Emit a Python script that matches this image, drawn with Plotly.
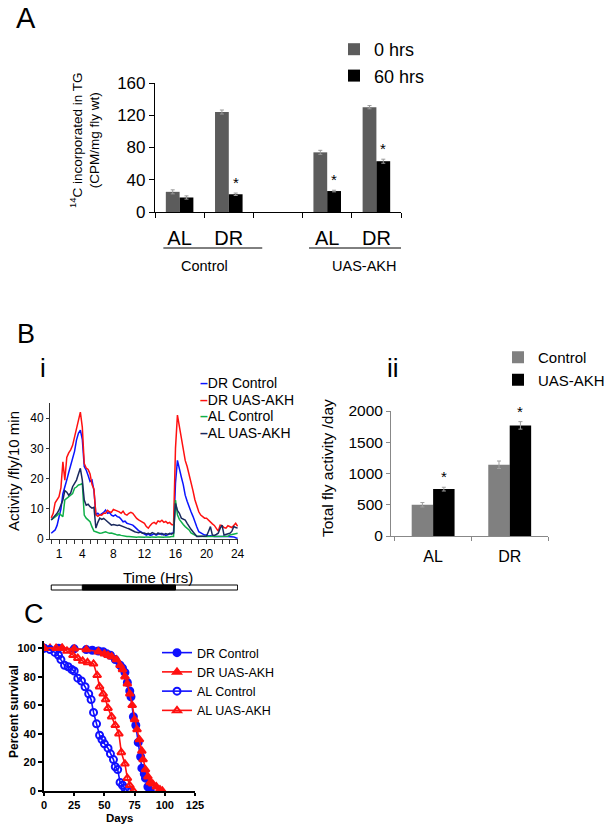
import plotly.graph_objects as go

W, H = 616, 829
def px(x): return x / W
def py(y): return 1 - y / H

FONT = "Liberation Sans, Arial, sans-serif"

# ---------------- Panel A data ----------------
a_positions = [0.5, 1.5, 3.5, 4.5]
a_labels = ["AL", "DR", "AL", "DR"]
a_group_names = ["Control", "UAS-AKH"]
tg_0h = [25, 124, 74, 130]
tg_0h_err = [2.5, 2.5, 2.5, 2.0]
tg_60h = [18, 22, 26, 63]
tg_60h_err = [2.0, 1.5, 1.0, 2.5]
tg_60h_sig = [False, True, True, True]
a_yticks = [0, 40, 80, 120, 160]

# ---------------- Panel B(i) data (activity per 10 min, read every 15 min) ----------------
hours = [0, 0.25, 0.5, 0.75, 1, 1.25, 1.5, 1.75,
         2, 2.25, 2.5, 2.75, 3, 3.25, 3.5, 3.75,
         4, 4.25, 4.5, 4.75, 5, 5.25, 5.5, 5.75,
         6, 6.25, 6.5, 6.75, 7, 7.25, 7.5, 7.75,
         8, 8.25, 8.5, 8.75, 9, 9.25, 9.5, 9.75,
         10, 10.25, 10.5, 10.75, 11, 11.25, 11.5, 11.75,
         12, 12.25, 12.5, 12.75, 13, 13.25, 13.5, 13.75,
         14, 14.25, 14.5, 14.75, 15, 15.25, 15.5, 15.75,
         16, 16.25, 16.5, 16.75, 17, 17.25, 17.5, 17.75,
         18, 18.25, 18.5, 18.75, 19, 19.25, 19.5, 19.75,
         20, 20.25, 20.5, 20.75, 21, 21.25, 21.5, 21.75,
         22, 22.25, 22.5, 22.75, 23, 23.25, 23.5, 23.75,
         24]
dr_control = [1.9, 2.5, 3, 4.5, 7.5, 10, 15, 17,
              19.5, 22, 24.5, 27, 29, 32.7, 35, 36,
              33, 24, 22.8, 21, 19, 19.5, 16, 8,
              8.5, 7.9, 8.3, 8.8, 9.6, 8.5, 8.8, 7.9,
              7.6, 8, 7.4, 7.2, 6.5, 5.7, 5.9, 5.2,
              5, 4.8, 4.6, 4, 3.3, 2.8, 2.4, 2,
              1.6, 1.3, 1.6, 1.2, 1.4, 1.8, 1.3, 1.5,
              1.9, 1.4, 1.6, 1.2, 1.5, 1.8, 1.9, 2,
              18.5, 26, 22.8, 20.5, 18, 14.5, 12.5, 10.5,
              9, 7.5, 5.5, 4, 2.4, 2, 1.6, 1.3,
              1.3, 1, 1.1, 0.9, 0.8, 0.8, 0.9, 0.8,
              0.8, 0.9, 0.8, 0.8, 0.8, 0.8, 0.7, 0.4,
              0.2]
dr_uas_akh = [7, 8.5, 12, 13, 14, 17, 25.5, 19.5,
              27, 28.5, 29.5, 31, 34, 37, 40, 42,
              37, 25, 23.5, 23, 21.5, 18, 16.5, 8,
              7.5, 8, 7.9, 8.5, 8.5, 9.5, 9, 8.8,
              9.8, 9.6, 9.2, 9, 8.5, 9.2, 8.2, 7.9,
              8.5, 8.8, 8.5, 7.5, 6.8, 6.3, 6, 5.5,
              5.2, 4.1, 3.6, 4.5, 5.2, 5.5, 5, 6,
              5.7, 6.2, 5.5, 5.8, 5.2, 5.5, 4.8, 4.6,
              30, 41, 37, 33, 30, 26, 24, 21.5,
              19, 16, 13, 11, 9, 7.9, 7.5, 6.9,
              6.9, 6.2, 5.7, 5, 4.5, 3.6, 2.6, 4.6,
              4.4, 3.8, 3.6, 4.4, 4.1, 3.8, 4.5, 5.2,
              4.2]
al_control = [6.3, 6.8, 7, 7.8, 8.5, 8, 7.4, 12.9,
              13.5, 14, 14.5, 15, 16.8, 17.2, 17.9, 18,
              18.4, 7.9, 6.9, 6.3, 5.7, 4, 2.6, 2.4,
              2.2, 1.9, 2, 2.2, 2.4, 2.1, 1.9, 2,
              1.9, 1.6, 1.3, 1.4, 1.2, 1, 0.9, 0.8,
              0.8, 0.7, 0.8, 0.7, 0.6, 0.7, 0.6, 0.6,
              0.6, 0.7, 0.6, 0.6, 0.7, 0.6, 0.6, 0.7,
              0.6, 0.7, 0.6, 0.7, 0.6, 0.7, 0.8, 0.8,
              12.9, 8, 6.5, 5.5, 4.8, 4.1, 3.5, 3,
              2, 1.5, 1.3, 1, 0.9, 0.8, 0.8, 0.8,
              0.8, 0.8, 0.8, 0.8, 0.8, 0.8, 0.8, 0.8,
              0.8, 0.8, 0.8, 0.9, 1.3, 1.4, 1.6, 1.8,
              1.9]
al_uas_akh = [6.3, 7, 7.9, 8.5, 9.6, 11, 12.9, 16,
              15.5, 14.5, 15.2, 17.3, 18.5, 19.5, 21.5, 23.4,
              19.5, 12.9, 11.2, 11.5, 10.7, 10.2, 10.5, 3.6,
              5.5, 6.9, 6.5, 6.8, 6.3, 5.8, 5, 4.6,
              4.8, 4.6, 4.5, 4.6, 4.3, 4.1, 3.8, 3.6,
              3.4, 3, 2.6, 2.4, 2.2, 2.1, 2.3, 1.9,
              2, 1.7, 1.9, 1.6, 2.1, 1.8, 1.5, 2,
              1.6, 1.9, 1.4, 1.8, 1.5, 1.9, 1.6, 2,
              11.8, 9.5, 8.5, 6.9, 6.6, 6.3, 5.2, 4.1,
              3.2, 2.4, 1.5, 0.8, 0.8, 0.8, 0.9, 0.8,
              1, 2.5, 4.1, 1.3, 1.2, 1.5, 1.9, 3.5,
              4.6, 1.3, 1.5, 1.8, 1.9, 2.5, 4.1, 3.8,
              3.6]
bi_names = ["DR Control", "DR UAS-AKH", "AL Control", "AL UAS-AKH"]
bi_colors = ["#0a14ff", "#ff1010", "#10b04a", "#1a2a5e"]
bi_xticks = [1, 4, 8, 12, 16, 20, 24]
bi_yticks = [0, 10, 20, 30, 40]
dark_period = [4, 16]
day_span = [0, 24]

# ---------------- Panel B(ii) data ----------------
bii_positions = [0.5, 1.5]
bii_labels = ["AL", "DR"]
act_control = [500, 1140]
act_control_err = [35, 60]
act_akh = [750, 1770]
act_akh_err = [30, 60]
act_akh_sig = [True, True]
bii_yticks = [0, 500, 1000, 1500, 2000]

# ---------------- Panel C data ----------------
dr_ctrl_days = [0, 12, 25, 35, 40, 45, 49, 52, 55, 59, 63, 65, 67, 69, 71, 72, 74, 76, 78, 80, 81, 83, 84, 86, 88]
dr_ctrl_surv = [100, 100, 99.5, 99, 98.5, 98, 97.5, 96, 95, 92, 88, 86, 83, 76, 70, 66, 52, 46, 34, 24, 16, 12, 9, 3, 0]
dr_akh_days = [0, 5, 15, 25, 35, 45, 50, 53, 56, 60, 63, 65, 67, 69, 71, 73, 75, 77, 79, 81, 82, 84, 86, 88, 90, 93, 96, 98]
dr_akh_surv = [100, 100, 100, 99.5, 99, 97.5, 96, 95, 94, 92, 88, 85, 80, 75, 68, 60, 50, 43, 36, 28, 22, 15, 10, 6, 5, 3, 1, 0]
al_ctrl_days = [0, 5, 9, 12, 14, 17, 20, 23, 25, 28, 31, 34, 37, 39, 41, 43.5, 46, 48, 50, 53, 55, 57.5, 59, 61, 63, 65, 67, 69]
al_ctrl_surv = [100, 99, 97, 95, 92, 88, 87, 85, 84, 79, 77, 73, 68, 64, 55, 47, 39, 36, 33, 30, 26, 22, 17, 15, 6, 4, 2, 0]
al_akh_days = [0, 10, 15, 19, 24, 28, 32, 36, 41, 44, 46, 49, 51, 53, 56, 59, 62, 64, 67, 69, 71, 74]
al_akh_surv = [100, 100, 100, 98, 95, 93, 91, 90, 89, 81, 73, 68, 64, 58, 52, 46, 40, 27, 19, 9, 4, 0]
c_xticks = [0, 25, 50, 75, 100, 125]
c_yticks = [0, 20, 40, 60, 80, 100]

BAR_W = 0.28

fig = go.Figure()

# ---------- Panel A ----------
fig.add_trace(go.Bar(x=a_positions, y=tg_0h, width=BAR_W, offset=-BAR_W, name="0 hrs",
                     marker=dict(color="#5c5c5c", line=dict(width=0)),
                     error_y=dict(type="data", array=tg_0h_err, color="#9a9a9a", thickness=1, width=2),
                     xaxis="x", yaxis="y", legend="legend", legendgroup="a0"))
fig.add_trace(go.Bar(x=a_positions, y=tg_60h, width=BAR_W, offset=0, name="60 hrs",
                     marker=dict(color="#000000", line=dict(width=0)),
                     error_y=dict(type="data", array=tg_60h_err, color="#9a9a9a", thickness=1, width=2),
                     xaxis="x", yaxis="y", legend="legend", legendgroup="a1"))

# ---------- Panel B(i) ----------
for name, vals, col in zip(bi_names, [dr_control, dr_uas_akh, al_control, al_uas_akh], bi_colors):
    fig.add_trace(go.Scatter(x=hours, y=vals, mode="lines", name=name,
                             line=dict(color=col, width=1.5), showlegend=False,
                             xaxis="x2", yaxis="y2"))

# ---------- Panel B(ii) ----------
fig.add_trace(go.Bar(x=bii_positions, y=act_control, width=BAR_W, offset=-BAR_W, name="Control",
                     marker=dict(color="#808080", line=dict(width=0)),
                     error_y=dict(type="data", array=act_control_err, color="#a0a0a0", thickness=1, width=2),
                     xaxis="x3", yaxis="y3", legend="legend3", legendgroup="b0"))
fig.add_trace(go.Bar(x=bii_positions, y=act_akh, width=BAR_W, offset=0, name="UAS-AKH",
                     marker=dict(color="#000000", line=dict(width=0)),
                     error_y=dict(type="data", array=act_akh_err, color="#a0a0a0", thickness=1, width=2),
                     xaxis="x3", yaxis="y3", legend="legend3", legendgroup="b1"))

# ---------- Panel C ----------
c_series = [
    ("DR Control", dr_ctrl_days, dr_ctrl_surv, "#1010ff", "circle"),
    ("DR UAS-AKH", dr_akh_days, dr_akh_surv, "#ff1010", "triangle-up"),
    ("AL Control", al_ctrl_days, al_ctrl_surv, "#1010ff", "circle-open"),
    ("AL UAS-AKH", al_akh_days, al_akh_surv, "#ff1010", "triangle-up-open"),
]
for name, d, s, col, sym in c_series:
    fig.add_trace(go.Scatter(x=d, y=s, mode="lines+markers", name=name,
                             line=dict(color=col, width=1.6),
                             marker=dict(symbol=sym, size=7, color=col, line=dict(color=col, width=2)),
                             xaxis="x4", yaxis="y4", legend="legend4"))

ann = []
def text(x, y, t, size, xanchor="center", yanchor="middle", angle=0, color="black", bold=False, xref="paper", yref="paper"):
    ann.append(dict(x=x, y=y, xref=xref, yref=yref, text=t, showarrow=False, textangle=angle,
                    xanchor=xanchor, yanchor=yanchor,
                    font=dict(family=FONT, size=size, color=color, weight="bold" if bold else "normal")))

# Panel labels
text(px(14), py(18), "A", 29, xanchor="left")
text(px(15), py(334), "B", 27, xanchor="left")
text(px(22), py(614), "C", 27, xanchor="left")
text(px(43), py(368), "i", 26)
text(px(393), py(368), "ii", 26)

# Panel A annotations
text(px(84), py(140), "<sup>14</sup>C incorporated in TG<br>(CPM/mg fly wt)", 13.5, angle=-90)
text(1.0, py(266), a_group_names[0], 14.5, xref="x")
text(4.25, py(266), a_group_names[1], 14.5, xref="x")
for xpos, v, e, sig in zip(a_positions, tg_60h, tg_60h_err, tg_60h_sig):
    if sig:
        text(xpos + BAR_W / 2, v + e, "*", 15, yanchor="bottom", xref="x", yref="y")

# Panel B(i) annotations
text(px(13), py(471), "Activity /fly/10 min", 15, angle=-90)
text(px(158), py(577), "Time (Hrs)", 15)
for i, (name, col) in enumerate(zip(bi_names, bi_colors)):
    ann.append(dict(x=px(198), y=py(383 + 16.7 * i), xref="paper", yref="paper", showarrow=False,
                    xanchor="left", yanchor="middle",
                    text=f"<span style='color:{col}'><b>–</b></span>{name}",
                    font=dict(family=FONT, size=14, color="black")))

# Panel B(ii) annotations
text(px(327), py(468), "Total fly activity /day", 15.5, angle=-90)
for xpos, v, e, sig in zip(bii_positions, act_akh, act_akh_err, act_akh_sig):
    if sig:
        text(xpos + BAR_W / 2, v + e, "*", 15, yanchor="bottom", xref="x3", yref="y3")

# Panel C annotations
text(px(14), py(712), "Percent survival", 12, angle=-90, bold=True)
text(px(120), py(818), "Days", 11.5, bold=True)

shapes = [
    # group underlines panel A
    dict(type="line", xref="x", yref="paper", x0=0.17, x1=2.18, y0=py(248), y1=py(248), line=dict(color="black", width=1)),
    dict(type="line", xref="x", yref="paper", x0=3.13, x1=5.12, y0=py(248), y1=py(248), line=dict(color="black", width=1)),
    # light/dark bar
    dict(type="rect", xref="x2", yref="paper", x0=day_span[0], x1=day_span[1], y0=py(590), y1=py(585),
         fillcolor="white", line=dict(color="black", width=1)),
    dict(type="rect", xref="x2", yref="paper", x0=dark_period[0], x1=dark_period[1], y0=py(590), y1=py(585),
         fillcolor="black", line=dict(color="black", width=1)),
]

fig.update_layout(
    width=W, height=H, margin=dict(l=0, r=0, t=0, b=0, pad=0, autoexpand=False),
    paper_bgcolor="white", plot_bgcolor="rgba(0,0,0,0)",
    font=dict(family=FONT, color="black"),
    barmode="overlay",
    showlegend=True,
    annotations=ann, shapes=shapes,
    # Panel A
    xaxis=dict(domain=[px(155), px(401)], range=[0, 5], anchor="y", showline=True, linecolor="black", linewidth=1.2,
               tickmode="array", tickvals=a_positions, ticktext=a_labels, ticks="", ticklabelstandoff=8,
               tickfont=dict(family=FONT, size=20), showgrid=False, zeroline=False, automargin=False,
               minor=dict(tickmode="array", tickvals=[0, 1, 2, 3, 4, 5], ticks="outside", ticklen=5,
                          tickcolor="black", tickwidth=1.2, showgrid=False)),
    yaxis=dict(domain=[py(212), py(83)], range=[0, 160], anchor="x", showline=True, linecolor="black", linewidth=1.2,
               tickmode="array", tickvals=a_yticks, ticks="outside", ticklen=5, tickcolor="black", automargin=False,
               tickfont=dict(family=FONT, size=17), showgrid=False, zeroline=False),
    # Panel B(i)
    xaxis2=dict(domain=[px(50), px(238)], range=[-0.16, 24.05], anchor="y2", showline=True, linecolor="#333", linewidth=1,
                tickmode="array", tickvals=bi_xticks, ticks="outside", ticklen=4, tickcolor="#333", automargin=False,
                tickfont=dict(family=FONT, size=12), showgrid=False, zeroline=False,
                minor=dict(dtick=1, tick0=0, ticks="outside", ticklen=4, tickcolor="#333", showgrid=False)),
    yaxis2=dict(domain=[py(539), py(403)], range=[0, 45], anchor="x2", showline=True, linecolor="#333", linewidth=1,
                tickmode="array", tickvals=bi_yticks, ticks="outside", ticklen=3, tickcolor="#333", automargin=False,
                tickfont=dict(family=FONT, size=12), showgrid=False, zeroline=False),
    # Panel B(ii)
    xaxis3=dict(domain=[px(391), px(548)], range=[-0.05, 2], anchor="y3", showline=True, linecolor="#888", linewidth=1,
                tickmode="array", tickvals=bii_positions, ticktext=bii_labels, ticks="", ticklabelstandoff=6,
                tickfont=dict(family=FONT, size=16), showgrid=False, zeroline=False, automargin=False,
                minor=dict(tickmode="array", tickvals=[0, 1, 2], ticks="outside", ticklen=4, tickcolor="#888", showgrid=False)),
    yaxis3=dict(domain=[py(536), py(411)], range=[0, 2000], anchor="x3", showline=True, linecolor="#888", linewidth=1,
                tickmode="array", tickvals=bii_yticks, ticks="outside", ticklen=4, tickcolor="#888", automargin=False,
                tickfont=dict(family=FONT, size=15.5), showgrid=False, zeroline=False),
    # Panel C
    xaxis4=dict(domain=[px(44), px(195)], range=[0, 125], anchor="y4", showline=True, linecolor="black", linewidth=2,
                tickmode="array", tickvals=c_xticks, ticks="outside", ticklen=3, tickwidth=2, tickcolor="black",
                tickfont=dict(family=FONT, size=11, weight="bold"), showgrid=False, zeroline=False, automargin=False),
    yaxis4=dict(domain=[py(791), py(641)], range=[0, 105], anchor="x4", showline=True, linecolor="black", linewidth=2,
                tickmode="array", tickvals=c_yticks, ticks="outside", ticklen=4, tickwidth=2, tickcolor="black",
                tickfont=dict(family=FONT, size=11, weight="bold"), showgrid=False, zeroline=False, automargin=False),
    legend=dict(x=px(334), y=py(31), xanchor="left", yanchor="top", font=dict(family=FONT, size=18),
                bgcolor="rgba(0,0,0,0)", tracegroupgap=0, itemwidth=30),
    legend3=dict(x=px(498), y=py(341), xanchor="left", yanchor="top", font=dict(family=FONT, size=15),
                 bgcolor="rgba(0,0,0,0)", tracegroupgap=0, itemwidth=30),
    legend4=dict(x=px(157), y=py(638), xanchor="left", yanchor="top", font=dict(family=FONT, size=12.5),
                 bgcolor="rgba(0,0,0,0)", tracegroupgap=0, itemwidth=30),
)

fig.write_html("out.html", config={"displayModeBar": False},
               post_script="document.body.style.margin='0px';")
